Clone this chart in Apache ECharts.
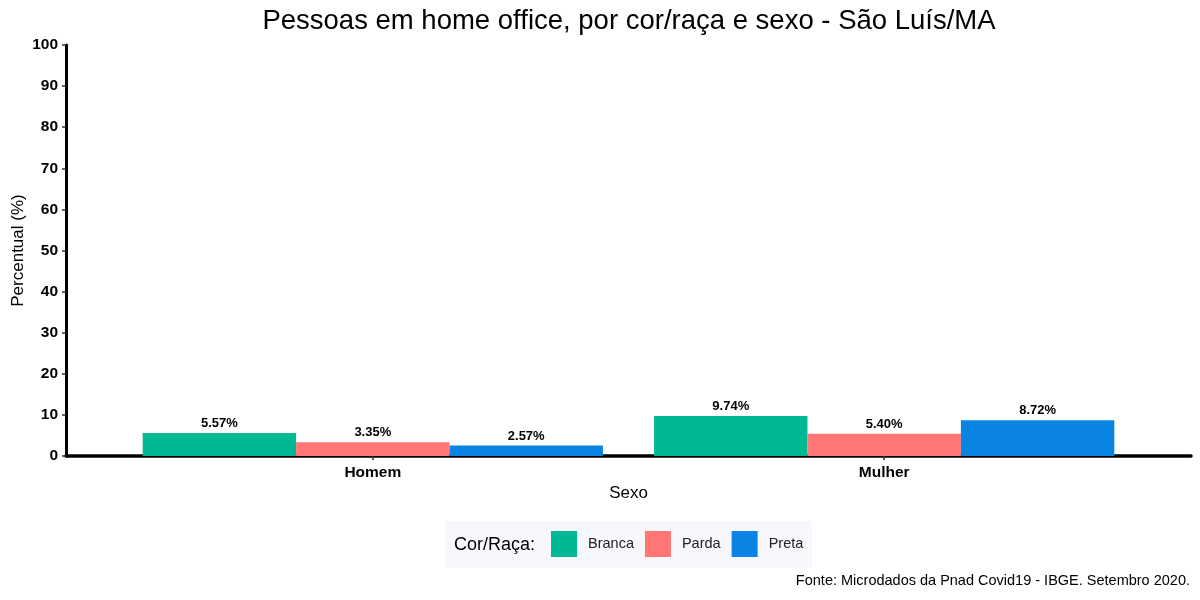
<!DOCTYPE html>
<html lang="pt">
<head>
    <meta charset="UTF-8">
    <title>Pessoas em home office</title>
    <script src="https://cdn.jsdelivr.net/npm/echarts@6/dist/echarts.min.js"></script>
    <style>
        html, body { margin: 0; padding: 0; background: #fff; }
        #chart { width: 1200px; height: 600px; }
    </style>
</head>
<body>
<div id="chart"></div>
<script>
    /* dados */
    var sexo = ['Homem', 'Mulher'];
    var racas = ['Branca', 'Parda', 'Preta'];
    var branca = [5.57, 9.74];
    var parda = [3.35, 5.40];
    var preta = [2.57, 8.72];
    var cores = ['#00B894', '#FF7675', '#0984E3'];
    var yTicks = [0, 10, 20, 30, 40, 50, 60, 70, 80, 90, 100];

    var valores = [branca, parda, preta];
    var posicoes = sexo.map(function (s, i) { return i + 1; });
    var fonte = '"Liberation Sans", Arial, sans-serif';

    var series = racas.map(function (r, k) {
        return {
            name: r,
            type: 'bar',
            barGap: '0%',
            barCategoryGap: '10%',
            itemStyle: { color: cores[k] },
            label: {
                show: true,
                position: 'top',
                distance: 3,
                color: '#000',
                fontFamily: fonte,
                fontWeight: 'bold',
                fontSize: 13,
                formatter: function (p) { return p.value[1].toFixed(2) + '%'; }
            },
            data: posicoes.map(function (x, i) { return [x, valores[k][i]]; })
        };
    });

    var option = {
        backgroundColor: '#fff',
        animation: false,
        textStyle: { fontFamily: fonte },
        grid: { left: 66, right: 9, top: 45, bottom: 144, outerBoundsMode: 'none', containLabel: false },
        legend: {
            data: racas,
            left: 551,
            top: 531,
            padding: 0,
            itemWidth: 26,
            itemHeight: 26,
            itemGap: 11,
            icon: 'rect',
            selectedMode: false,
            textStyle: { fontSize: 14.5, color: '#222', padding: [0, 0, 0, 6], fontFamily: fonte }
        },
        graphic: [
            {
                type: 'text', x: 629, y: 21, z: 10,
                style: {
                    text: 'Pessoas em home office, por cor/raça e sexo - São Luís/MA',
                    font: '27.5px ' + fonte, fill: '#000', textAlign: 'center', textVerticalAlign: 'middle'
                }
            },
            {
                type: 'rect', z: -1,
                shape: { x: 445, y: 521, width: 367, height: 47 },
                style: { fill: '#F7F8FD' }
            },
            {
                type: 'text', x: 454, y: 545, z: 10,
                style: {
                    text: 'Cor/Raça:', font: '18px ' + fonte, fill: '#000',
                    textAlign: 'left', textVerticalAlign: 'middle'
                }
            },
            {
                type: 'text', x: 1190, y: 581, z: 10,
                style: {
                    text: 'Fonte: Microdados da Pnad Covid19 - IBGE. Setembro 2020.',
                    font: '14.5px ' + fonte, fill: '#000', textAlign: 'right', textVerticalAlign: 'middle'
                }
            }
        ],
        xAxis: {
            type: 'value',
            min: 0.4,
            max: 2.6,
            name: 'Sexo',
            nameLocation: 'middle',
            nameGap: 29,
            nameMoveOverlap: false,
            nameTextStyle: { fontSize: 17, color: '#000', fontFamily: fonte },
            axisLine: { show: true, lineStyle: { color: '#000', width: 3.5 } },
            axisTick: { show: true, customValues: posicoes, length: 4, lineStyle: { color: '#333', width: 1.5 } },
            axisLabel: {
                customValues: posicoes,
                margin: 9,
                color: '#000',
                fontWeight: 'bold',
                fontSize: 15.5,
                fontFamily: fonte,
                formatter: function (v) { return sexo[Math.round(v) - 1] || ''; }
            },
            splitLine: { show: false }
        },
        yAxis: {
            type: 'value',
            min: yTicks[0],
            max: yTicks[yTicks.length - 1],
            interval: 10,
            name: 'Percentual (%)',
            nameLocation: 'middle',
            nameRotate: 90,
            nameGap: 39,
            nameMoveOverlap: false,
            nameTextStyle: { fontSize: 17, color: '#000', fontFamily: fonte },
            axisLine: { show: true, lineStyle: { color: '#000', width: 3 } },
            axisTick: { show: true, length: 4, lineStyle: { color: '#333', width: 1.5 } },
            axisLabel: { margin: 8, color: '#000', fontWeight: 'bold', fontSize: 15.5, fontFamily: fonte },
            splitLine: { show: false }
        },
        series: series
    };

    var chart = echarts.init(document.getElementById('chart'));
    chart.setOption(option);
</script>
</body>
</html>
